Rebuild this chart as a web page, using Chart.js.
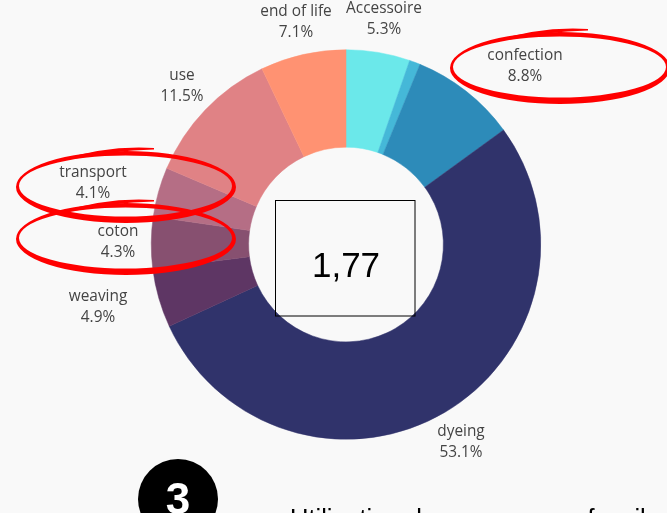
<!DOCTYPE html>
<html>
<head>
<meta charset="utf-8">
<title>Utilisation des ressources fossiles</title>
<script src="https://cdn.jsdelivr.net/npm/chart.js@4"></script>
<style>
    html, body { margin: 0; padding: 0; background: #f9f9f9; overflow: hidden; }
    canvas { display: block; }
</style>
</head>
<body>
<canvas id="donutChart" width="667" height="513"></canvas>
<script>
// The thin slice after Accessoire has no label in the picture
const categories = ['Accessoire', '', 'confection', 'dyeing', 'weaving', 'coton', 'transport', 'use', 'end of life'];
const shares = [5.3, 0.9, 8.8, 53.1, 4.9, 4.3, 4.1, 11.5, 7.1];
const sliceColors = ['#6be8ea', '#45b8d8', '#2d8bb9', '#30336b', '#5e3664', '#875070', '#b56e85', '#e08285', '#ff9272'];
const centerValue = '1,77';
const badgeText = '3';
const captionText = 'Utilisation des ressources fossiles';

// Where each label sits, same order as categories
const labelSpots = [[384, 9], null, [525, 56], [461, 432], [98, 297], [118, 232], [93, 173], [182, 76], [296, 12]];

// Hand drawn red circles around the labels
function drawRedCircle(ctx, cx, cy) {
    ctx.fillStyle = '#ff0000';
    ctx.beginPath();
    ctx.ellipse(cx, cy, 110, 36, 0, 0, Math.PI * 2);
    ctx.ellipse(cx - 0.5, cy - 1, 106.5, 30.5, 0, 0, Math.PI * 2);
    ctx.fill('evenodd');

    // brush tail on top of the ring
    ctx.beginPath();
    ctx.moveTo(cx + 28, cy - 39);
    ctx.quadraticCurveTo(cx - 20, cy - 42, cx - 68, cy - 26);
    ctx.lineTo(cx - 40, cy - 30);
    ctx.quadraticCurveTo(cx - 15, cy - 36, cx + 28, cy - 37.5);
    ctx.closePath();
    ctx.fill();
}

const overlayPlugin = {
    id: 'overlay',
    afterDraw: function(chart) {
        const ctx = chart.ctx;
        ctx.save();

        // Slice labels
        ctx.textAlign = 'center';
        ctx.textBaseline = 'middle';
        ctx.fillStyle = '#444';
        ctx.font = '15.4px "Open Sans"';
        categories.forEach(function(name, i) {
            if (!labelSpots[i]) return;
            ctx.fillText(name, labelSpots[i][0], labelSpots[i][1]);
            ctx.fillText(shares[i].toFixed(1) + '%', labelSpots[i][0], labelSpots[i][1] + 21);
        });

        drawRedCircle(ctx, 560, 68);
        drawRedCircle(ctx, 126, 187);
        drawRedCircle(ctx, 126, 239);

        // Box with the value in the hole
        ctx.strokeStyle = '#000';
        ctx.lineWidth = 1;
        ctx.strokeRect(275.5, 200.5, 139.5, 115.5);
        ctx.fillStyle = '#000';
        ctx.font = '35px "Liberation Sans"';
        ctx.textBaseline = 'alphabetic';
        ctx.fillText(centerValue, 346, 277);

        // Badge and caption cut off by the bottom edge
        ctx.beginPath();
        ctx.arc(178, 499, 40, 0, Math.PI * 2);
        ctx.fill();
        ctx.fillStyle = '#fff';
        ctx.font = 'bold 44px "Liberation Sans"';
        ctx.fillText(badgeText, 178, 514);
        ctx.fillStyle = '#000';
        ctx.font = '25.5px "Liberation Sans"';
        ctx.textAlign = 'left';
        ctx.fillText(captionText, 290, 526.5);

        ctx.restore();
    }
};

const donutCtx = document.getElementById('donutChart').getContext('2d');
const donutChart = new Chart(donutCtx, {
    type: 'doughnut',
    data: {
        labels: categories,
        datasets: [{
            data: shares,
            backgroundColor: sliceColors,
            borderColor: sliceColors,
            borderWidth: 0.5
        }]
    },
    options: {
        responsive: false,
        animation: false,
        cutout: '50%',
        layout: {
            padding: { top: 49, bottom: 73, left: 151, right: 126 }
        },
        plugins: {
            legend: { display: false },
            tooltip: { enabled: false }
        }
    },
    plugins: [overlayPlugin]
});
</script>
</body>
</html>
